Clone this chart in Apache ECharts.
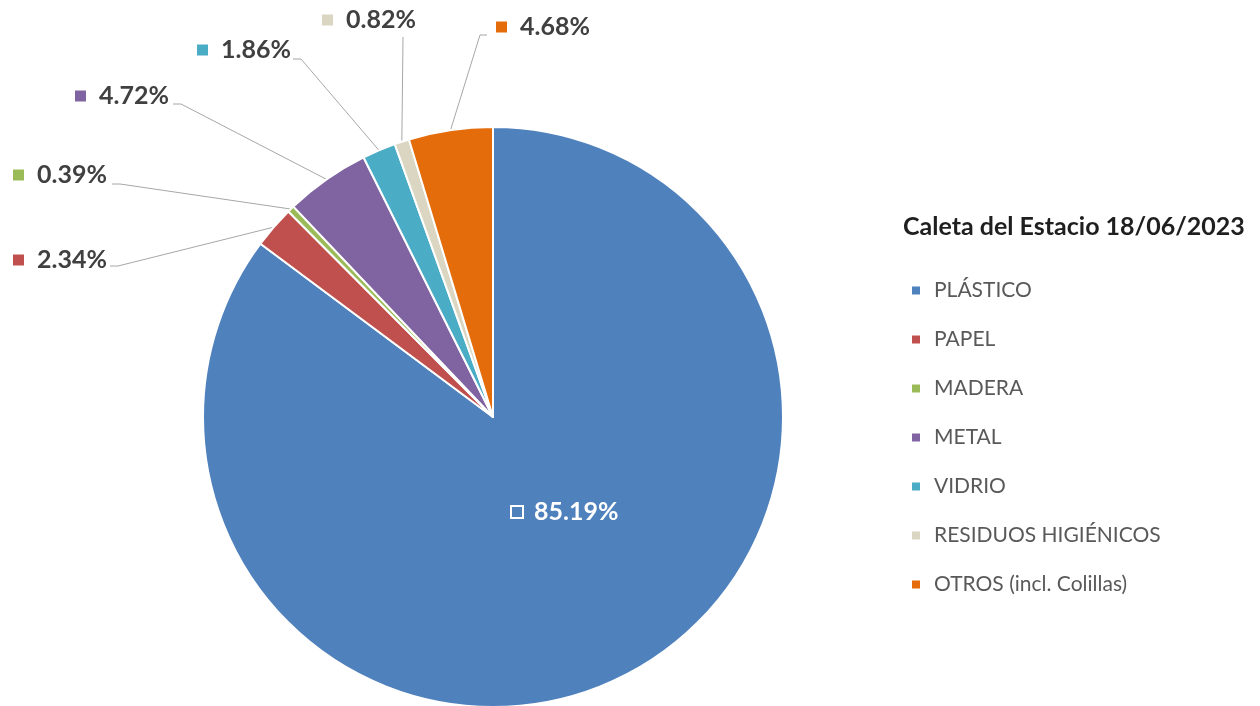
<!DOCTYPE html>
<html>
<head>
<meta charset="utf-8">
<script src="https://cdn.jsdelivr.net/npm/echarts@6/dist/echarts.min.js"></script>
<style>
  html, body { margin: 0; padding: 0; background: #fff; }
  #chart { width: 1260px; height: 706px; }
</style>
</head>
<body>
<div id="chart"></div>
<script>
const categories = ['PLÁSTICO', 'PAPEL', 'MADERA', 'METAL', 'VIDRIO', 'RESIDUOS HIGIÉNICOS', 'OTROS (incl. Colillas)'];
const percents = [85.19, 2.34, 0.39, 4.72, 1.86, 0.82, 4.68];
const colors = ['#4F81BD', '#C0504D', '#9BBB59', '#8064A2', '#4BACC6', '#DAD6C2', '#E46C0A'];

// label placement: left edge / vertical middle of each percentage label
const labelSpots = [
    [512, 512], [13, 260], [13, 175], [75, 96], [197, 50], [322, 20], [496, 27]
];
// where the leader line meets the label, and its short bend before that
const lineEnds = [
    null,
    [[118, 266], [110, 266]],
    [[120, 184], [112, 184]],
    [[181, 104], [173, 104]],
    [[301, 59], [293, 59]],
    [[403, 37], [403, 37]],
    [[480, 35], [487, 35]],
];

const font = 'Lato, "Open Sans", sans-serif';

const chart = echarts.init(document.getElementById('chart'));

const data = categories.map((name, i) => {
    const inside = i === 0;
    return {
        name,
        value: percents[i],
        label: {
            color: inside ? '#FFFFFF' : '#404040',
            rich: {
                m: inside
                    ? { width: 10, height: 10, borderColor: '#FFFFFF', borderWidth: 2, backgroundColor: colors[i] }
                    : { width: 11, height: 11, backgroundColor: colors[i] },
                s: { width: inside ? 12 : 13 },
            },
        },
        labelLine: { show: !inside },
    };
});

chart.setOption({
    color: colors,
    animation: false,
    title: {
        text: 'Caleta del Estacio 18/06/2023',
        left: 903,
        top: 212,
        padding: 0,
        textStyle: { fontFamily: font, fontSize: 25, fontWeight: 'bold', color: '#1F1F1F', lineHeight: 30 },
    },
    legend: {
        orient: 'vertical',
        left: 910,
        top: 279,
        padding: 0,
        icon: 'rect',
        itemWidth: 10,
        itemHeight: 10,
        itemGap: 26,
        textStyle: { fontFamily: font, fontSize: 21, color: '#595959', padding: [0, 0, 0, 8], lineHeight: 23 },
        data: categories,
    },
    series: [
        {
            type: 'pie',
            center: [493, 417],
            radius: 290,
            startAngle: 90,
            clockwise: true,
            avoidLabelOverlap: false,
            itemStyle: { borderColor: '#FFFFFF', borderWidth: 2 },
            label: {
                show: true,
                position: 'outside',
                fontFamily: font,
                fontSize: 25,
                fontWeight: 'bold',
                formatter: (p) => `{m|}{s|}${p.value.toFixed(2)}%`,
            },
            labelLine: {
                show: true,
                length: 10,
                length2: 10,
                lineStyle: { color: '#A6A6A6', width: 1 },
            },
            labelLayout: (params) => {
                const i = params.dataIndex;
                const spot = labelSpots[i];
                const out = { x: spot[0], y: spot[1], align: 'left', verticalAlign: 'middle' };
                const ends = lineEnds[i];
                if (ends && params.labelLinePoints) {
                    out.labelLinePoints = [params.labelLinePoints[0], ends[0], ends[1]];
                }
                return out;
            },
            data,
        },
    ],
});
</script>
</body>
</html>
